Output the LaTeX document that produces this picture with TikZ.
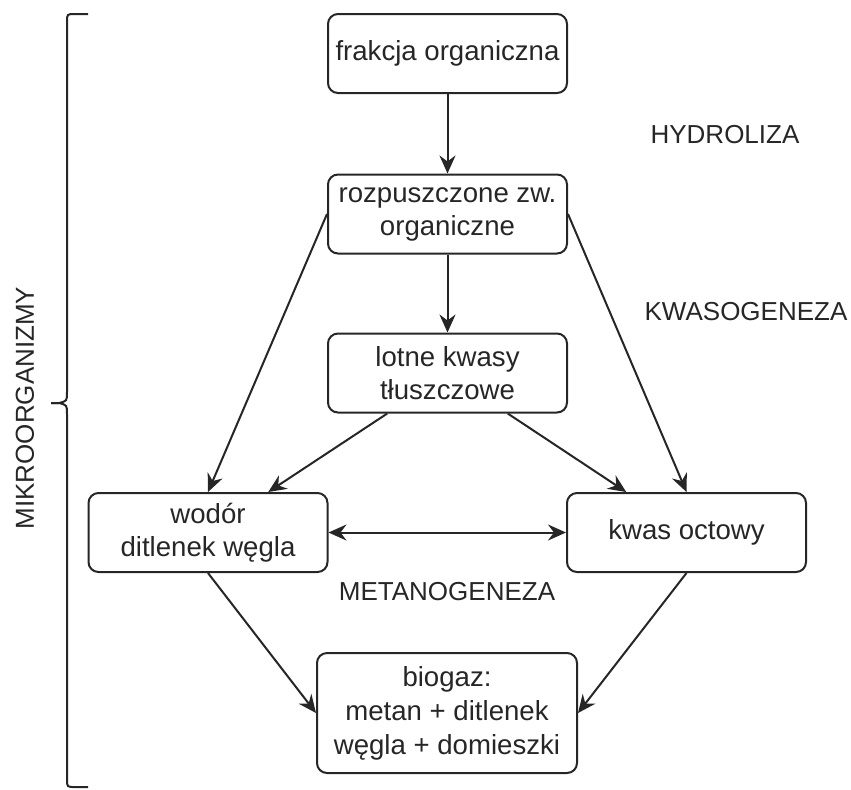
\documentclass[tikz,border=0pt]{standalone}
\usepackage{fontspec}
\setmainfont{Liberation Sans}
\usetikzlibrary{arrows.meta,calc}

\begin{document}
\begin{tikzpicture}[x=0.5pt, y=-0.5pt, line width=1pt, color=black!85,
    >={Stealth[length=9pt,width=8pt,inset=3pt]},
    box/.style={draw, rounded corners=5pt, minimum width=119.5pt, minimum height=39.5pt,
      inner sep=0pt, align=center, font=\fontsize{13.8}{16.5}\selectfont},
    phase/.style={font=\fontsize{13}{15}\selectfont}]
  \useasboundingbox (0,0) rectangle (851,789);
  % etapy
  \node[box] (frakcja) at (447.5, 53.5) {frakcja organiczna};
  \node[box] (rozp) at (447.5, 214) {rozpuszczone zw.\\organiczne};
  \node[box] (lkt) at (447.5, 373) {lotne kwasy\\tłuszczowe};
  \node[box] (wodor) at (208, 532.5) {wodór\\ditlenek węgla};
  \node[box] (octowy) at (686.5, 532.5) {kwas octowy};
  \node[box, minimum width=130pt, minimum height=60pt, font=\fontsize{13.8}{17}\selectfont]
    (biogaz) at (447, 713) {biogaz:\\metan + ditlenek\\węgla + domieszki};
  \node[phase] (hydro) at (725, 135) {HYDROLIZA};
  \node[phase] (kwaso) at (746, 312) {KWASOGENEZA};
  \node[phase] (metano) at (447, 592) {METANOGENEZA};
  % strzalki
  \draw[->] (frakcja) -- (rozp);
  \draw[->] (rozp) -- (lkt);
  \draw[->] (rozp.west) -- (wodor.north);
  \draw[->] (rozp.east) -- (octowy.north);
  \draw[->] ($(lkt.south west)!0.25!(lkt.south east)$) -- ($(wodor.north west)!0.75!(wodor.north east)$);
  \draw[->] ($(lkt.south west)!0.75!(lkt.south east)$) -- ($(octowy.north west)!0.25!(octowy.north east)$);
  \draw[<->] (wodor) -- (octowy);
  \draw[->] (wodor.south) -- (biogaz.west);
  \draw[->] (octowy.south) -- (biogaz.east);
  % klamra
  \draw (88,14) -- (75,14) .. controls (67,14) .. (67,22) -- (67,392)
    .. controls (67,401) .. (59,403) -- (51,403);
  \draw (51,403) -- (59,403) .. controls (67,405) .. (67,414) -- (67,779)
    .. controls (67,787) .. (75,787) -- (88,787);
  \node[phase, rotate=90] (mikro) at (25, 408) {MIKROORGANIZMY};
\end{tikzpicture}
\end{document}
